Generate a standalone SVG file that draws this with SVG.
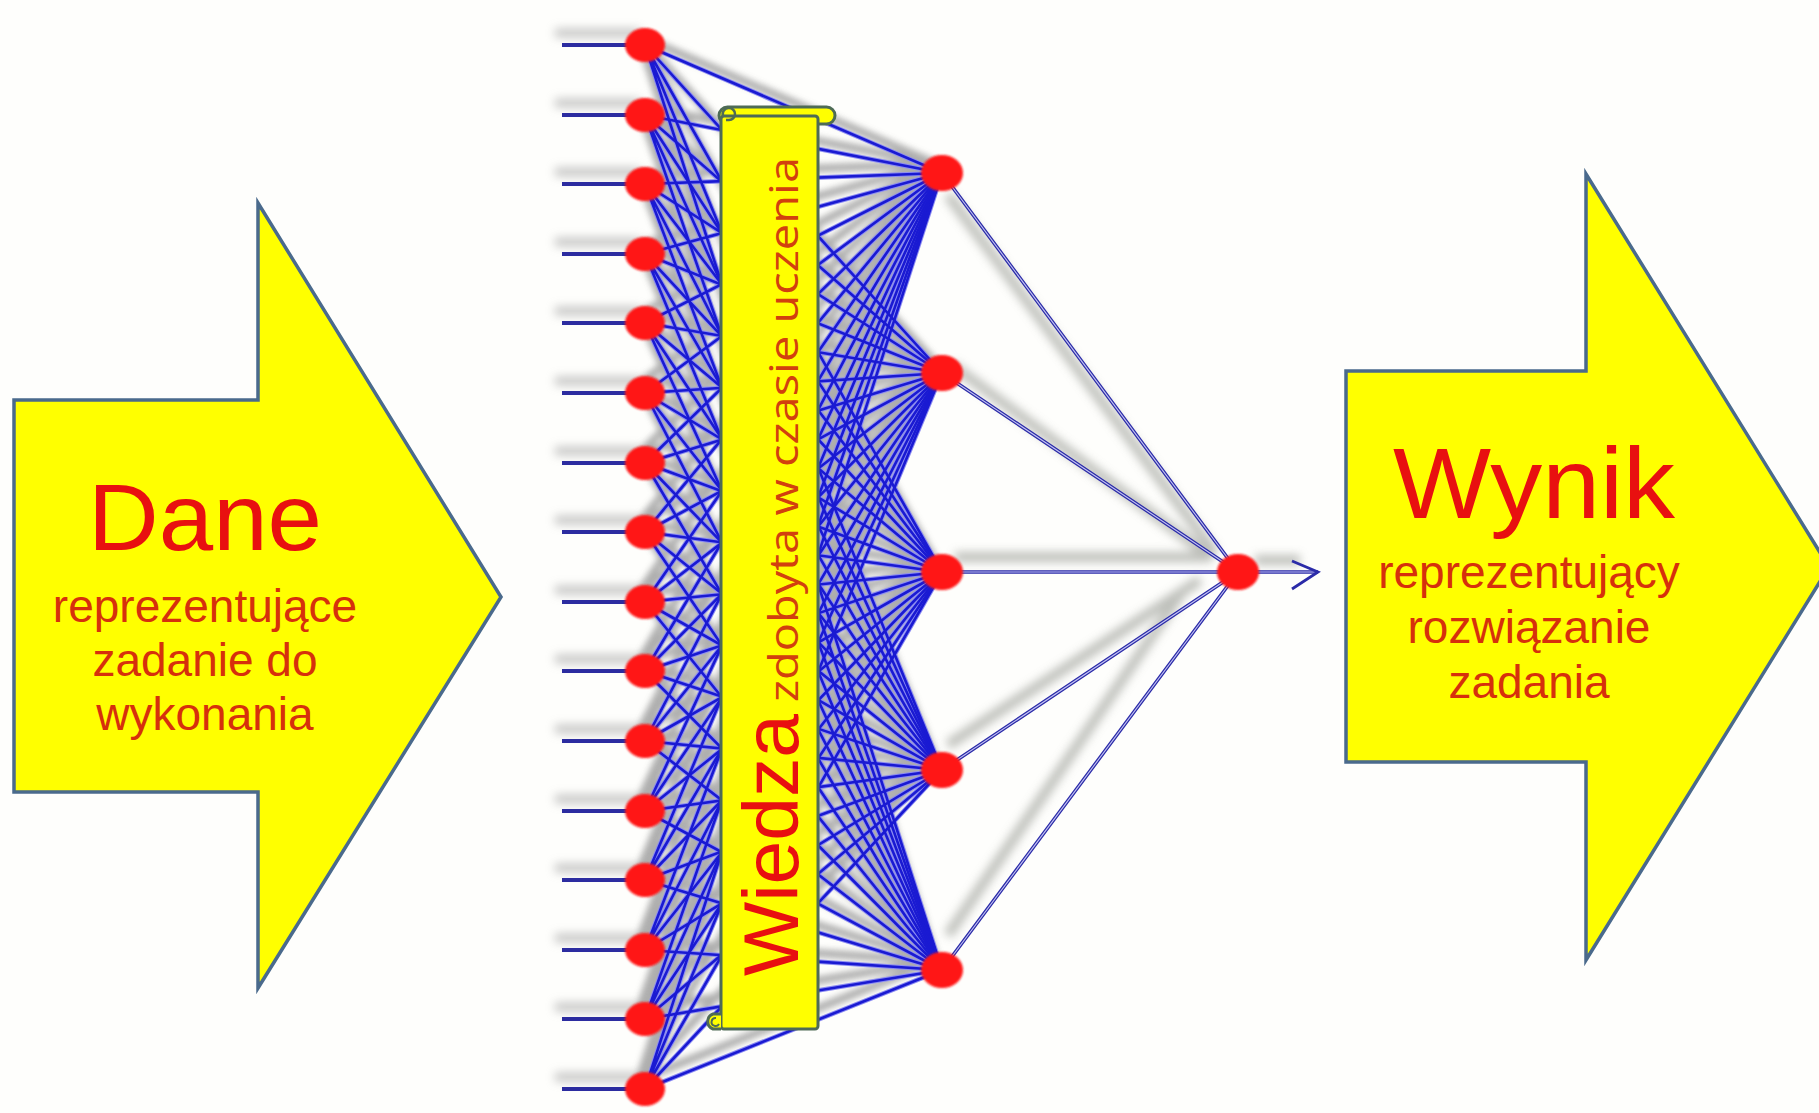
<svg xmlns="http://www.w3.org/2000/svg" xmlns:xlink="http://www.w3.org/1999/xlink" width="1819" height="1113" viewBox="0 0 1819 1113">
<style>
.arrow{fill:#ffff00;stroke:#4a6a8c;stroke-width:3.5;stroke-linejoin:miter}
.big{font-family:"Liberation Sans",Arial,sans-serif;fill:#e81010}
.sub{font-family:"Liberation Sans",Arial,sans-serif;fill:#d6300c;font-size:46px}
.node{fill:#ff1414;filter:url(#soft)}
.stub{stroke:#2c2ca0;stroke-width:4}
.scroll{fill:#ffff00;stroke:#4e6b55;stroke-width:3}
</style>
<defs>
<filter id="soft" x="-30%" y="-30%" width="160%" height="160%"><feGaussianBlur stdDeviation="0.9"/></filter>
<filter id="blur3" x="-10%" y="-10%" width="120%" height="120%"><feGaussianBlur stdDeviation="3"/></filter>
<filter id="blur5" x="-20%" y="-50%" width="140%" height="200%"><feGaussianBlur stdDeviation="5"/></filter>
<g id="fans" fill="none">
<path d="M645 45L942 173M645 45L942 373M645 45L942 572M645 45L942 770M645 45L942 970"/>
<path d="M645 115L942 173M645 115L942 373M645 115L942 572M645 115L942 770M645 115L942 970"/>
<path d="M645 184L942 173M645 184L942 373M645 184L942 572M645 184L942 770M645 184L942 970"/>
<path d="M645 254L942 173M645 254L942 373M645 254L942 572M645 254L942 770M645 254L942 970"/>
<path d="M645 323L942 173M645 323L942 373M645 323L942 572M645 323L942 770M645 323L942 970"/>
<path d="M645 393L942 173M645 393L942 373M645 393L942 572M645 393L942 770M645 393L942 970"/>
<path d="M645 463L942 173M645 463L942 373M645 463L942 572M645 463L942 770M645 463L942 970"/>
<path d="M645 532L942 173M645 532L942 373M645 532L942 572M645 532L942 770M645 532L942 970"/>
<path d="M645 602L942 173M645 602L942 373M645 602L942 572M645 602L942 770M645 602L942 970"/>
<path d="M645 671L942 173M645 671L942 373M645 671L942 572M645 671L942 770M645 671L942 970"/>
<path d="M645 741L942 173M645 741L942 373M645 741L942 572M645 741L942 770M645 741L942 970"/>
<path d="M645 811L942 173M645 811L942 373M645 811L942 572M645 811L942 770M645 811L942 970"/>
<path d="M645 880L942 173M645 880L942 373M645 880L942 572M645 880L942 770M645 880L942 970"/>
<path d="M645 950L942 173M645 950L942 373M645 950L942 572M645 950L942 770M645 950L942 970"/>
<path d="M645 1019L942 173M645 1019L942 373M645 1019L942 572M645 1019L942 770M645 1019L942 970"/>
<path d="M645 1089L942 173M645 1089L942 373M645 1089L942 572M645 1089L942 770M645 1089L942 970"/>
</g>
<path id="out-links" d="M942 173L1238 572M942 373L1238 572M942 572L1238 572M942 770L1238 572M942 970L1238 572M1238 572H1318" fill="none"/>
</defs>
<rect width="1819" height="1113" fill="#fefefc"/>

<g id="input-arrow">
<polygon class="arrow" points="14,400 258,400 258,203 501,597 258,988 258,792 14,792"/>
<text class="big" x="205" y="550" font-size="94" text-anchor="middle" textLength="234" lengthAdjust="spacingAndGlyphs">Dane</text>
<text class="sub" x="205" y="622" text-anchor="middle">reprezentujące</text>
<text class="sub" x="205" y="676" text-anchor="middle">zadanie do</text>
<text class="sub" x="205" y="730" text-anchor="middle">wykonania</text>
</g>

<g id="output-arrow">
<polygon class="arrow" points="1346,371 1586,371 1586,174 1829,567 1586,960 1586,762 1346,762"/>
<text class="big" x="1534" y="518" font-size="100" text-anchor="middle" textLength="282" lengthAdjust="spacingAndGlyphs">Wynik</text>
<text class="sub" x="1529" y="588" text-anchor="middle">reprezentujący</text>
<text class="sub" x="1529" y="643" text-anchor="middle">rozwiązanie</text>
<text class="sub" x="1529" y="698" text-anchor="middle">zadania</text>
</g>

<g id="connectors">
<g id="input-stubs">
<g stroke="#9a9a9a" stroke-width="9" opacity="0.55" filter="url(#blur5)">
<path d="M555 33H640M555 103H640M555 172H640M555 242H640M555 311H640M555 381H640M555 451H640M555 520H640M555 590H640M555 659H640M555 729H640M555 799H640M555 868H640M555 938H640M555 1007H640M555 1077H640"/>
</g>
<path class="stub" d="M562 45H645M562 115H645M562 184H645M562 254H645M562 323H645M562 393H645M562 463H645M562 532H645M562 602H645M562 671H645M562 741H645M562 811H645M562 880H645M562 950H645M562 1019H645M562 1089H645"/>
</g>
<g id="hidden-links">
<use xlink:href="#fans" href="#fans" transform="translate(-6,-9)" stroke="#a0a0a0" stroke-width="8" opacity="0.85" filter="url(#blur3)"/>
<use xlink:href="#fans" href="#fans" stroke="#8c8cf2" stroke-width="4.6"/>
<use xlink:href="#fans" href="#fans" stroke="#1a1ad2" stroke-width="2.6"/>
</g>
<g id="output-links" fill="none">
<g stroke="#a8aaa4" stroke-width="10" opacity="0.75" filter="url(#blur5)">
<path d="M948 195L1215 553M952 365L1212 558M955 557L1212 557M948 745L1200 580M948 935L1182 592M1255 560L1300 560"/>
</g>
<use xlink:href="#out-links" href="#out-links" stroke="#2b2ba8" stroke-width="3.6"/>
<use xlink:href="#out-links" href="#out-links" stroke="#c4c4f4" stroke-width="1.1"/>
<path d="M1292 561L1318 572L1292 589" stroke="#2b2ba8" stroke-width="2.8"/>
</g>
</g>

<g id="input-nodes">
<g id="in-1"><ellipse class="node" cx="645" cy="45" rx="20" ry="17"/></g>
<g id="in-2"><ellipse class="node" cx="645" cy="115" rx="20" ry="17"/></g>
<g id="in-3"><ellipse class="node" cx="645" cy="184" rx="20" ry="17"/></g>
<g id="in-4"><ellipse class="node" cx="645" cy="254" rx="20" ry="17"/></g>
<g id="in-5"><ellipse class="node" cx="645" cy="323" rx="20" ry="17"/></g>
<g id="in-6"><ellipse class="node" cx="645" cy="393" rx="20" ry="17"/></g>
<g id="in-7"><ellipse class="node" cx="645" cy="463" rx="20" ry="17"/></g>
<g id="in-8"><ellipse class="node" cx="645" cy="532" rx="20" ry="17"/></g>
<g id="in-9"><ellipse class="node" cx="645" cy="602" rx="20" ry="17"/></g>
<g id="in-10"><ellipse class="node" cx="645" cy="671" rx="20" ry="17"/></g>
<g id="in-11"><ellipse class="node" cx="645" cy="741" rx="20" ry="17"/></g>
<g id="in-12"><ellipse class="node" cx="645" cy="811" rx="20" ry="17"/></g>
<g id="in-13"><ellipse class="node" cx="645" cy="880" rx="20" ry="17"/></g>
<g id="in-14"><ellipse class="node" cx="645" cy="950" rx="20" ry="17"/></g>
<g id="in-15"><ellipse class="node" cx="645" cy="1019" rx="20" ry="17"/></g>
<g id="in-16"><ellipse class="node" cx="645" cy="1089" rx="20" ry="17"/></g>
</g>
<g id="hidden-nodes">
<g id="h-1"><ellipse class="node" cx="942" cy="173" rx="21" ry="18"/></g>
<g id="h-2"><ellipse class="node" cx="942" cy="373" rx="21" ry="18"/></g>
<g id="h-3"><ellipse class="node" cx="942" cy="572" rx="21" ry="18"/></g>
<g id="h-4"><ellipse class="node" cx="942" cy="770" rx="21" ry="18"/></g>
<g id="h-5"><ellipse class="node" cx="942" cy="970" rx="21" ry="18"/></g>
</g>
<g id="output-node"><ellipse class="node" cx="1238" cy="572" rx="21" ry="18"/></g>

<g id="knowledge-scroll">
<rect class="scroll" x="719" y="107" width="116" height="17" rx="8.5"/>
<rect class="scroll" x="721" y="116" width="97" height="913" rx="3"/>
<path d="M723 116a6 6 0 0 1 6-8a6 6 0 0 1 0 12h-3" fill="none" stroke="#4e6b55" stroke-width="2.5"/>
<path d="M721 1014h-8a8 8 0 0 0 0 15h8" class="scroll"/>
<path d="M716 1018a4 4 0 1 0 3 6" fill="none" stroke="#4e6b55" stroke-width="2"/>
<g transform="translate(798,976) rotate(-90)">
<text class="big" x="0" y="0" font-size="78" textLength="262" lengthAdjust="spacingAndGlyphs">Wiedza</text>
<text x="274" y="0" font-family="'Open Sans','Noto Sans',sans-serif" font-size="41" fill="#d2400e" textLength="545" lengthAdjust="spacingAndGlyphs">zdobyta w czasie uczenia</text>
</g>
</g>
</svg>
